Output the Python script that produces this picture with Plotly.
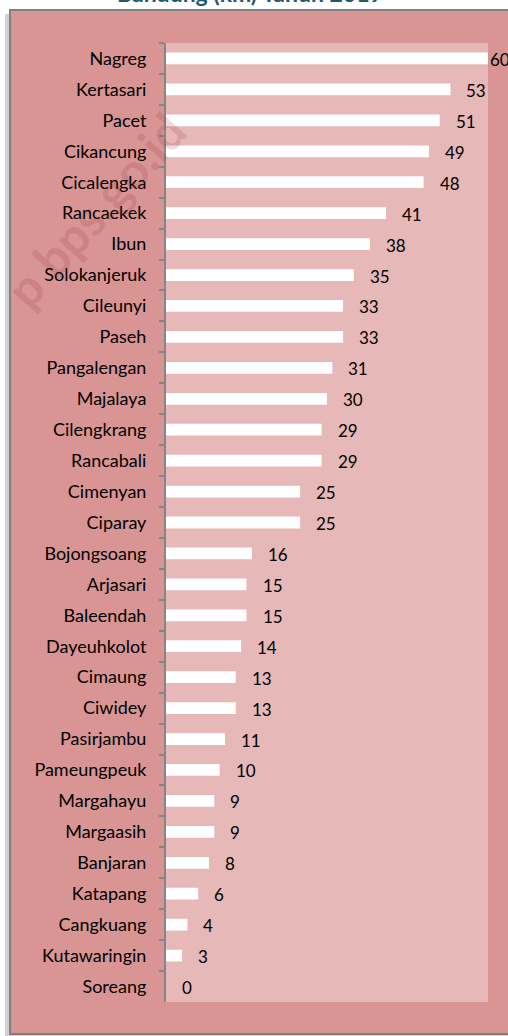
import plotly.graph_objects as go

kecamatan = ["Nagreg", "Kertasari", "Pacet", "Cikancung", "Cicalengka", "Rancaekek", "Ibun",
             "Solokanjeruk", "Cileunyi", "Paseh", "Pangalengan", "Majalaya", "Cilengkrang",
             "Rancabali", "Cimenyan", "Ciparay", "Bojongsoang", "Arjasari", "Baleendah",
             "Dayeuhkolot", "Cimaung", "Ciwidey", "Pasirjambu", "Pameungpeuk", "Margahayu",
             "Margaasih", "Banjaran", "Katapang", "Cangkuang", "Kutawaringin", "Soreang"]
jarak_km = [60, 53, 51, 49, 48, 41, 38, 35, 33, 33, 31, 30, 29, 29, 25, 25, 16, 15, 15, 14,
            13, 13, 11, 10, 9, 9, 8, 6, 4, 3, 0]
title_text = "Bandung (km) Tahun 2019"
watermark = "p bps.go.id"

W, H = 508, 1036
L, R, T, B = 166, 488, 43, 1002
FONT = "Lato"
FS = 18

def px(x):
    return (x - L) / (R - L)

def py(y):
    return (B - y) / (B - T)

fig = go.Figure()
fig.add_trace(go.Bar(
    x=jarak_km, y=kecamatan, orientation="h",
    marker=dict(color="white", line=dict(width=0)),
    hoverinfo="x+y",
))

annotations = []
vmax = max(jarak_km)
for name, v in zip(kecamatan, jarak_km):
    annotations.append(dict(
        x=v, y=name, xref="x", yref="y", text=str(v), showarrow=False,
        xanchor="left", yanchor="middle", xshift=(0 if v == vmax else 14), yshift=-1,
        font=dict(family=FONT, size=FS - 1, color="black"),
    ))

annotations.append(dict(
    x=px(250), y=py(9), xref="paper", yref="paper", text="<b>" + title_text + "</b>",
    showarrow=False, xanchor="center", yanchor="bottom",
    font=dict(family=FONT, size=23, color="#215968"),
))
annotations.append(dict(
    x=px(95), y=py(210), xref="paper", yref="paper", text="<b>" + watermark + "</b>",
    showarrow=False, textangle=-48, xanchor="center", yanchor="middle",
    font=dict(family=FONT, size=50, color="rgba(150,50,50,0.17)"),
))

shapes = [
    # shadow
    dict(type="rect", xref="paper", yref="paper", x0=px(5), x1=px(530), y0=py(14), y1=py(1037),
         fillcolor="rgba(0,0,0,0.18)", line=dict(width=0), layer="below"),
    # frame
    dict(type="rect", xref="paper", yref="paper", x0=px(10), x1=px(530), y0=py(10), y1=py(1034),
         fillcolor="#D99594", line=dict(color="#808080", width=2), layer="below"),
    # plot area
    dict(type="rect", xref="paper", yref="paper", x0=0, x1=1, y0=0, y1=1,
         fillcolor="#E6B8B7", line=dict(width=0), layer="below"),
]

fig.update_layout(
    width=W, height=H,
    margin=dict(l=L, r=W - R, t=T, b=H - B),
    paper_bgcolor="white", plot_bgcolor="rgba(0,0,0,0)",
    bargap=0.62, showlegend=False,
    font=dict(family=FONT, size=FS, color="black"),
    annotations=annotations, shapes=shapes,
    xaxis=dict(range=[0, 60], visible=False, fixedrange=True),
    yaxis=dict(autorange="reversed", type="category", showline=True, linecolor="#868686",
               linewidth=2, ticks="outside", ticklen=5, tickcolor="#868686", tickwidth=2,
               tickson="boundaries", showgrid=False, ticklabelstandoff=14,
               tickfont=dict(family=FONT, size=FS, color="black")),
)

fig.write_html("out.html", config={"displayModeBar": False},
               post_script="document.body.style.margin='0';document.body.style.overflow='hidden';")
